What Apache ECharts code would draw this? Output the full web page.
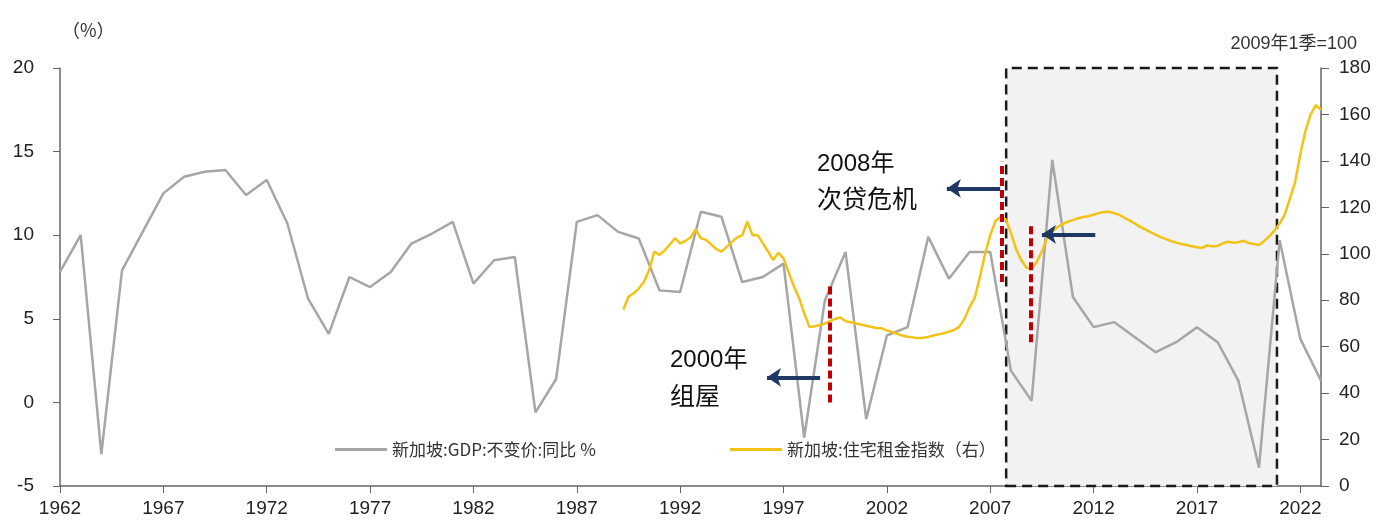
<!DOCTYPE html>
<html>
<head>
<meta charset="utf-8">
<script src="https://cdn.jsdelivr.net/npm/echarts@6/dist/echarts.min.js"></script>
<style>
  html, body { margin: 0; padding: 0; background: #fff; }
  #chart { width: 1380px; height: 523px; }
</style>
</head>
<body>
<div id="chart"></div>
<script>
// 新加坡 GDP 不变价同比（年度，左轴）
var gdpFirstYear = 1962;
var gdpValues = [
  7.8, 10.0, -3.1, 7.9, 10.2, 12.5, 13.5, 13.8, 13.9, 12.4,
  13.3, 10.7, 6.2, 4.1, 7.5, 6.9, 7.8, 9.5, 10.1, 10.8,
  7.1, 8.5, 8.7, -0.6, 1.4, 10.8, 11.2, 10.2, 9.8, 6.7,
  6.6, 11.4, 11.1, 7.2, 7.5, 8.3, -2.1, 6.1, 9.0, -1.0,
  4.0, 4.5, 9.9, 7.4, 9.0, 9.0, 1.9, 0.1, 14.5, 6.3,
  4.5, 4.8, 3.9, 3.0, 3.6, 4.5, 3.6, 1.3, -3.9, 9.7,
  3.8, 1.3
];

// 新加坡住宅租金指数（季度，右轴），从1989年2季开始
var rentFirstQuarter = 1989.25;
var rentValues = [
  76, 81.5, 83,
  85, 88, 93, 101,
  99.5, 101.5, 104, 106.7,
  104.5, 105.5, 107, 110.5,
  106.7, 106, 104, 102,
  100.9, 103, 105, 107,
  108, 113.8, 108, 108,
  104.5, 101, 97.3, 100.5,
  98, 92, 86, 81,
  74.5, 68.5, 68.8, 69.3,
  70, 71, 72, 72.6,
  71, 70.5, 70, 69.5,
  69, 68.5, 68, 67.9,
  67, 66.3, 65.5, 64.8,
  64.3, 64, 63.6, 63.8,
  64.2, 64.8, 65.3, 65.8,
  66.5, 67.2, 68.5, 72,
  77, 81, 90, 100,
  108, 114, 116, 114.8,
  109, 102, 97.3, 94,
  93.5, 96.5, 101, 107,
  109.5, 111.5, 112.8, 113.8,
  114.5, 115.3, 115.8, 116.2,
  116.8, 117.5, 118, 118.1,
  117.5, 116.7, 115.5, 114.3,
  113, 111.6, 110.5, 109.3,
  108.2, 107.2, 106.3, 105.5,
  104.8, 104.2, 103.8, 103.2,
  102.8, 102.5, 103.6, 103.2,
  103.4, 104.5, 105.2, 104.8,
  105, 105.6, 104.6, 104.2,
  103.8, 105.5, 107.5, 110,
  113, 117, 124, 131,
  143, 153, 160, 164,
  162
];

var seriesNames = ['新加坡:GDP:不变价:同比 %', '新加坡:住宅租金指数（右）'];

// 标注：稳态区间、红色虚线、箭头（坐标为 [年份, 左轴值]）
var stableRange = [[2007.77, -5], [2020.87, 20]];
var redMarks = [
  [[1999.26, 0], [1999.26, 7.1]],
  [[2007.56, 7.2], [2007.56, 14.4]],
  [[2008.98, 3.6], [2008.98, 10.6]]
];
var arrows = [
  [[1998.77, 1.5], [1996.2, 1.5]],
  [[2007.48, 12.8], [2004.9, 12.8]],
  [[2012.08, 10.05], [2009.5, 10.05]]
];

var gdpData = gdpValues.map(function (v, i) { return [gdpFirstYear + i, v]; });
var rentData = rentValues.map(function (v, i) { return [rentFirstQuarter + i * 0.25, v]; });

var numFont = "'Liberation Sans', 'Noto Sans CJK SC', sans-serif";
var cjkFont = "'Noto Sans CJK SC', sans-serif";

var markLineData = [];
redMarks.forEach(function (m) {
  markLineData.push([
    { coord: m[0], symbol: 'none' },
    { coord: m[1], symbol: 'none', lineStyle: { color: '#c00000', width: 4, type: [8, 4] } }
  ]);
});
arrows.forEach(function (a) {
  markLineData.push([
    { coord: a[0], symbol: 'none' },
    { coord: a[1], symbol: 'arrow', symbolSize: [14, 14], lineStyle: { color: '#1f3864', width: 4, type: 'solid' } }
  ]);
});

var chart = echarts.init(document.getElementById('chart'));
chart.setOption({
  animation: false,
  backgroundColor: '#fff',
  grid: { left: 60, right: 59, top: 68, bottom: 37 },
  legend: [
    {
      data: [seriesNames[0]], left: 330, top: 436,
      icon: 'rect', itemWidth: 52, itemHeight: 3, itemGap: 10,
      textStyle: { fontFamily: cjkFont, fontSize: 17, color: '#333' }
    },
    {
      data: [seriesNames[1]], left: 725, top: 436,
      icon: 'rect', itemWidth: 52, itemHeight: 3,
      textStyle: { fontFamily: cjkFont, fontSize: 17, color: '#333' }
    }
  ],
  xAxis: {
    type: 'value',
    min: 1962, max: 2023, interval: 5,
    splitLine: { show: false },
    axisLine: { onZero: false, lineStyle: { color: '#666', width: 1.5 } },
    axisTick: { show: true, length: 7, lineStyle: { color: '#666' } },
    axisLabel: {
      showMaxLabel: false, margin: 13, fontSize: 19, fontFamily: numFont, color: '#222',
      formatter: function (v) { return String(v); }
    }
  },
  yAxis: [
    {
      type: 'value', min: -5, max: 20, interval: 5,
      splitLine: { show: false },
      axisLine: { show: true, lineStyle: { color: '#666', width: 1.5 } },
      axisTick: { show: true, length: 7, lineStyle: { color: '#666' } },
      axisLabel: { margin: 26, fontSize: 19, fontFamily: numFont, color: '#222' }
    },
    {
      type: 'value', min: 0, max: 180, interval: 20,
      splitLine: { show: false },
      axisLine: { show: true, lineStyle: { color: '#666', width: 1.5 } },
      axisTick: { show: true, length: 8, lineStyle: { color: '#666' } },
      axisLabel: { margin: 18, fontSize: 19, fontFamily: numFont, color: '#222' }
    }
  ],
  series: [
    {
      name: seriesNames[0],
      type: 'line',
      data: gdpData,
      symbol: 'none',
      color: '#a6a6a6',
      lineStyle: { color: '#a6a6a6', width: 2.5 },
      markArea: {
        silent: true,
        itemStyle: { color: '#f2f2f2', borderColor: '#1a1a1a', borderWidth: 2.5, borderType: [10, 6] },
        data: [[{ coord: stableRange[0] }, { coord: stableRange[1] }]]
      }
    },
    {
      name: seriesNames[1],
      type: 'line',
      yAxisIndex: 1,
      data: rentData,
      symbol: 'none',
      color: '#f2c314',
      lineStyle: { color: '#f2c314', width: 2.5 }
    },
    {
      name: 'marks',
      type: 'line',
      data: [],
      silent: true,
      markLine: {
        silent: true,
        symbol: ['none', 'none'],
        label: { show: false },
        emphasis: { disabled: true },
        data: markLineData
      }
    }
  ],
  graphic: [
    { type: 'text', x: 62, y: 30, style: { text: '（%）', font: '18px ' + cjkFont, fill: '#333', textVerticalAlign: 'middle' } },
    { type: 'text', x: 1357, y: 44, style: { text: '2009年1季=100', font: '18px ' + numFont, fill: '#333', textAlign: 'right', textVerticalAlign: 'middle' } },
    { type: 'text', x: 817, y: 164, style: { text: '2008年', font: '24px ' + numFont, fill: '#111', textVerticalAlign: 'middle' } },
    { type: 'text', x: 817, y: 198, style: { text: '次贷危机', font: '25px ' + cjkFont, fill: '#111', textVerticalAlign: 'middle' } },
    { type: 'text', x: 670, y: 360, style: { text: '2000年', font: '24px ' + numFont, fill: '#111', textVerticalAlign: 'middle' } },
    { type: 'text', x: 670, y: 395, style: { text: '组屋', font: '25px ' + cjkFont, fill: '#111', textVerticalAlign: 'middle' } },
    { type: 'text', x: 1090, y: 273, style: { text: '2009年', font: '24px ' + numFont, fill: '#111', textVerticalAlign: 'middle' } },
    { type: 'text', x: 1090, y: 308, style: { text: '鞋盒公寓', font: '25px ' + cjkFont, fill: '#111', textVerticalAlign: 'middle' } },
    { type: 'text', x: 1124, y: 106, style: { text: '2008年后', font: 'bold 24px ' + numFont, fill: '#e3141b', textAlign: 'center', textVerticalAlign: 'middle' } },
    { type: 'text', x: 1124, y: 139, style: { text: '新加坡地产稳态', font: 'bold 25px ' + cjkFont, fill: '#e3141b', textAlign: 'center', textVerticalAlign: 'middle' } }
  ]
});
</script>
</body>
</html>
